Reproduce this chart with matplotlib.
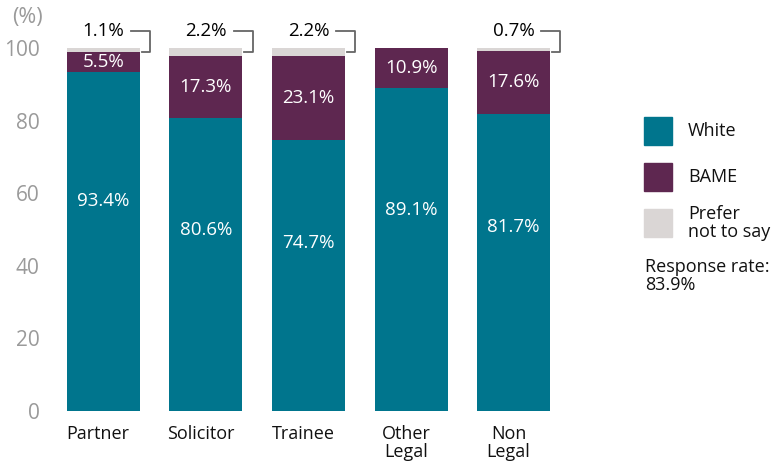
import matplotlib.pyplot as plt
from matplotlib.patches import Rectangle

plt.rcParams['font.family'] = ['Open Sans', 'DejaVu Sans']

# Data
categories = ['Partner', 'Solicitor', 'Trainee', 'Other\nLegal', 'Non\nLegal']
white = [93.4, 80.6, 74.7, 89.1, 81.7]
bame = [5.5, 17.3, 23.1, 10.9, 17.6]
prefer_not = [1.1, 2.2, 2.2, 0.0, 0.7]
response_rate = '83.9%'

c_white = '#00758d'
c_bame = '#5e2750'
c_prefer = '#dad6d5'
c_tick = '#9a9a9a'

fig = plt.figure(figsize=(7.8, 4.66), dpi=100)
ax = fig.add_axes([52 / 780, 55 / 466, 513 / 780, 363 / 466])

x = range(len(categories))
w = 0.71
ax.bar(x, white, width=w, color=c_white)
ax.bar(x, bame, width=w, bottom=white, color=c_bame)
tops = [a + b for a, b in zip(white, bame)]
ax.bar(x, prefer_not, width=w, bottom=tops, color=c_prefer)

for i in x:
    ax.text(i, white[i] * 0.62, f'{white[i]}%', ha='center', va='center',
            color='white', fontsize=13.5)
    ax.text(i, white[i] + bame[i] / 2, f'{bame[i]}%', ha='center', va='center',
            color='white', fontsize=13.5)
    if prefer_not[i] > 0:
        ax.text(i, 104.6, f'{prefer_not[i]}%', ha='center', va='center',
                color='black', fontsize=13.5)
        right = i + w / 2
        ax.plot([i + 0.27, right + 0.1, right + 0.1, right + 0.02],
                [104.6, 104.6, 99.0, 99.0], color='#666666', lw=1.3,
                clip_on=False)

ax.set_xlim(-0.5, 4.5)
ax.set_ylim(0, 100)
ax.set_yticks([0, 20, 40, 60, 80, 100])
ax.set_xticks([i - 0.05 for i in x])
ax.set_xticklabels(categories, fontsize=13, color='#111111', linespacing=1.0)
ax.tick_params(axis='y', length=0, pad=9, labelsize=15, labelcolor=c_tick)
ax.tick_params(axis='x', length=0, pad=10)
for s in ax.spines.values():
    s.set_visible(False)

fig.text(12 / 780, 1 - 18 / 466, '(%)', fontsize=15.5, color=c_tick, va='center')

# Legend
leg = [('White', c_white, 131), ('BAME', c_bame, 177), ('Prefer\nnot to say', c_prefer, 223)]
for label, col, yc in leg:
    fig.add_artist(Rectangle((644 / 780, 1 - (yc + 14) / 466), 28 / 780, 28 / 466,
                             transform=fig.transFigure, color=col))
    fig.text(688 / 780, 1 - yc / 466, label, fontsize=13, va='center',
             color='#111111', linespacing=0.95)
fig.text(645 / 780, 1 - 276 / 466, 'Response rate:\n' + response_rate, fontsize=13,
         va='center', color='#111111', linespacing=1.05)

fig.savefig('out.png', dpi=100)
